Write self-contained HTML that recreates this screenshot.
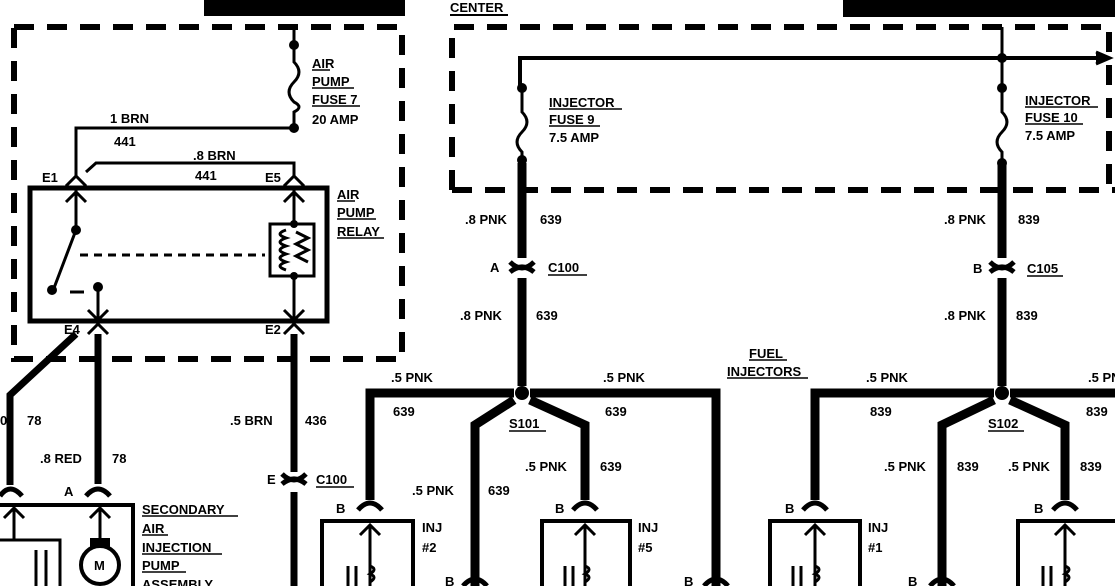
<!DOCTYPE html>
<html><head><meta charset="utf-8"><style>
html,body{margin:0;padding:0;background:#fff;width:1115px;height:586px;overflow:hidden}
svg text{font-family:"Liberation Sans",sans-serif;font-weight:bold;font-size:13px;fill:#000}
</style></head><body>
<svg width="1115" height="586" viewBox="0 0 1115 586" xmlns="http://www.w3.org/2000/svg">
<g fill="#000">
<rect x="204" y="0" width="201" height="16"/>
<rect x="843" y="0" width="272" height="17"/>
</g>
<text x="450" y="12">CENTER</text><line x1="450" y1="15" x2="508" y2="15" stroke="#000" stroke-width="2"/>
<g fill="none" stroke="#000" stroke-width="6" stroke-dasharray="20,13">
<rect x="14" y="27" width="388" height="332"/>
<path d="M452 190 V27 H1109 V190"/>
<path d="M452 190 H1115"/>
</g>
<g fill="none" stroke="#000" stroke-width="3">
<path d="M294 27 V45 M294 45 V62 q10 10 0 20 q-10 10 0 20 q10 5 0 10 V128 H76 V178"/>
<path d="M86 172 L96 163 H294 V178"/>
<rect x="30" y="188" width="297" height="133" stroke-width="5"/>
<path d="M66 186 L76 176 L86 186 M76 190 V230 L54 288 M66 202 L76 192 L86 202"/>
<path d="M70 292 H84"/>
<path d="M98 287 V320 M88 310 L98 320 L108 310 M88 334 L98 324 L108 334"/>
<path d="M80 255 H265" stroke-dasharray="8,6"/>
<path d="M284 186 L294 176 L304 186 M294 188 V224 M284 202 L294 192 L304 202"/>
<path d="M294 224 H270 V276 H314 V224 H294 M286 230 q-12 4 0 8 q-12 4 0 8 q-12 4 0 8 q-12 4 0 8 q-12 4 0 8 M296 232 l12 6 -12 6 12 6 -12 6 12 6"/>
<path d="M294 276 V320 M284 310 L294 320 L304 310 M284 334 L294 324 L304 334"/>
<path d="M520 88 V58 H1108" stroke-width="4"/>
<path d="M1096 52 L1110 58 L1096 64" fill="#000"/>
<path d="M522 88 V112 q10 10 0 20 q-10 10 0 20 V163"/>
<path d="M1002 27 V112 q10 10 0 20 q-10 10 0 20 V163"/>
</g>
<g fill="#000">
<circle cx="294" cy="45" r="5"/><circle cx="294" cy="128" r="5"/>
<circle cx="76" cy="230" r="5"/><circle cx="52" cy="290" r="5"/><circle cx="98" cy="287" r="5"/>
<circle cx="294" cy="224" r="4"/><circle cx="294" cy="276" r="4"/>
<circle cx="522" cy="88" r="5"/><circle cx="522" cy="160" r="5"/>
<circle cx="1002" cy="58" r="5"/><circle cx="1002" cy="88" r="5"/><circle cx="1002" cy="163" r="5"/>
<circle cx="522" cy="393" r="7"/><circle cx="1002" cy="393" r="7"/>
</g>
<g fill="none" stroke="#000" stroke-width="7">
<path d="M76 334 L10 395 V485"/>
<path d="M98 334 V484"/>
<path d="M294 334 V472 M294 492 V586"/>
</g>
<g fill="none" stroke="#000" stroke-width="9">
<path d="M522 163 V258 M522 278 V386"/>
<path d="M514 393 H370 V500"/>
<path d="M530 393 H716 V586"/>
<path d="M514 400 L475 425 V586"/>
<path d="M530 400 L585 425 V500"/>
<path d="M1002 163 V258 M1002 278 V386"/>
<path d="M994 393 H815 V500"/>
<path d="M1010 393 H1115"/>
<path d="M994 400 L942 425 V586"/>
<path d="M1010 400 L1065 425 V500"/>
</g>
<g fill="none" stroke="#000" stroke-width="5">
<path d="M510 272 q12 -10 24 0 M510 262 q12 12 24 0"/>
<path d="M990 272 q12 -10 24 0 M990 262 q12 12 24 0"/>
<path d="M282 484 q12 -10 24 0 M282 474 q12 12 24 0"/>
<path d="M0 496 q10 -14 22 0"/><path d="M86 496 q12 -14 24 0"/>
<path d="M358 510 q12 -14 24 0"/><path d="M573 510 q12 -14 24 0"/>
<path d="M803 510 q12 -14 24 0"/><path d="M1053 510 q12 -14 24 0"/>
<path d="M463 586 q12 -14 24 0"/><path d="M704 586 q12 -14 24 0"/><path d="M930 586 q12 -14 24 0"/>
</g>
<g fill="none" stroke="#000" stroke-width="4">
<path d="M0 505 H133 V586"/>
<path d="M322 586 V521 H413 V586"/><path d="M542 586 V521 H630 V586"/>
<path d="M770 586 V521 H860 V586"/><path d="M1018 586 V521 H1115"/>
</g>
<g fill="none" stroke="#000" stroke-width="3">
<path d="M100 508 V540 M90 518 L100 508 L110 518"/>
<path d="M14 508 V540 M4 518 L14 508 L24 518"/>
<path d="M0 540 H60 V586"/>
<path d="M370 525 V586 M360 535 L370 525 L380 535 M370 566 q8 3 0 8 q8 3 0 8"/>
<path d="M585 525 V586 M575 535 L585 525 L595 535 M585 566 q8 3 0 8 q8 3 0 8"/>
<path d="M815 525 V586 M805 535 L815 525 L825 535 M815 566 q8 3 0 8 q8 3 0 8"/>
<path d="M1065 525 V586 M1055 535 L1065 525 L1075 535 M1065 566 q8 3 0 8 q8 3 0 8"/>
<path d="M348 566 V586 M356 566 V586 M565 566 V586 M573 566 V586 M793 566 V586 M801 566 V586 M1043 566 V586 M1051 566 V586"/>
<path d="M36 550 V586 M46 550 V586"/>
<circle cx="100" cy="565" r="19" stroke-width="4"/>
</g>
<rect x="90" y="538" width="20" height="10" fill="#000"/>
<text x="94" y="570" font-size="11">M</text>
<text x="312" y="68">AIR</text><text x="312" y="86">PUMP</text><text x="312" y="104">FUSE 7</text><text x="312" y="124">20 AMP</text>
<text x="337" y="199">AIR</text><text x="337" y="217">PUMP</text><text x="337" y="236">RELAY</text>
<g stroke="#000" stroke-width="1.5"><path d="M312 70 H330 M312 88 H354 M312 106 H360 M337 201 H355 M337 219 H376 M337 238 H384"/></g>
<text x="110" y="123">1 BRN</text><text x="114" y="146">441</text>
<text x="193" y="160">.8 BRN</text><text x="195" y="180">441</text>
<text x="42" y="182">E1</text><text x="265" y="182">E5</text><text x="64" y="334">E4</text><text x="265" y="334">E2</text>
<text x="0" y="425">0</text><text x="27" y="425">78</text>
<text x="40" y="463">.8 RED</text><text x="112" y="463">78</text><text x="64" y="496">A</text>
<text x="230" y="425">.5 BRN</text><text x="305" y="425">436</text>
<text x="267" y="484">E</text><text x="316" y="484">C100</text><line x1="316" y1="487" x2="354" y2="487" stroke="#000" stroke-width="1.5"/>
<text x="142" y="514">SECONDARY</text><text x="142" y="533">AIR</text><text x="142" y="552">INJECTION</text><text x="142" y="570">PUMP</text><text x="142" y="589">ASSEMBLY</text>
<g stroke="#000" stroke-width="1.5"><path d="M142 516 H238 M142 535 H168 M142 554 H222 M142 572 H186"/></g>
<text x="549" y="107">INJECTOR</text><text x="549" y="124">FUSE 9</text><text x="549" y="142">7.5 AMP</text>
<text x="1025" y="105">INJECTOR</text><text x="1025" y="122">FUSE 10</text><text x="1025" y="140">7.5 AMP</text>
<g stroke="#000" stroke-width="1.5"><path d="M549 109 H622 M549 126 H600 M1025 107 H1098 M1025 124 H1083"/></g>
<text x="465" y="224">.8 PNK</text><text x="540" y="224">639</text>
<text x="490" y="272">A</text><text x="548" y="272">C100</text><line x1="548" y1="275" x2="587" y2="275" stroke="#000" stroke-width="1.5"/>
<text x="460" y="320">.8 PNK</text><text x="536" y="320">639</text>
<text x="944" y="224">.8 PNK</text><text x="1018" y="224">839</text>
<text x="973" y="273">B</text><text x="1027" y="273">C105</text><line x1="1027" y1="276" x2="1063" y2="276" stroke="#000" stroke-width="1.5"/>
<text x="944" y="320">.8 PNK</text><text x="1016" y="320">839</text>
<text x="749" y="358">FUEL</text><text x="727" y="376">INJECTORS</text>
<g stroke="#000" stroke-width="1.5"><path d="M749 360 H787 M727 378 H808"/></g>
<text x="391" y="382">.5 PNK</text><text x="393" y="416">639</text>
<text x="509" y="428">S101</text><line x1="509" y1="431" x2="546" y2="431" stroke="#000" stroke-width="1.5"/>
<text x="603" y="382">.5 PNK</text><text x="605" y="416">639</text>
<text x="525" y="471">.5 PNK</text><text x="600" y="471">639</text>
<text x="412" y="495">.5 PNK</text><text x="488" y="495">639</text>
<text x="336" y="513">B</text><text x="555" y="513">B</text><text x="785" y="513">B</text><text x="1034" y="513">B</text>
<text x="445" y="586">B</text><text x="684" y="586">B</text><text x="908" y="586">B</text>
<text x="422" y="532">INJ</text><text x="422" y="552">#2</text>
<text x="638" y="532">INJ</text><text x="638" y="552">#5</text>
<text x="868" y="532">INJ</text><text x="868" y="552">#1</text>
<text x="866" y="382">.5 PNK</text><text x="870" y="416">839</text>
<text x="988" y="428">S102</text><line x1="988" y1="431" x2="1024" y2="431" stroke="#000" stroke-width="1.5"/>
<text x="1088" y="382">.5 PNK</text><text x="1086" y="416">839</text>
<text x="884" y="471">.5 PNK</text><text x="957" y="471">839</text>
<text x="1008" y="471">.5 PNK</text><text x="1080" y="471">839</text>
</svg>
</body></html>
